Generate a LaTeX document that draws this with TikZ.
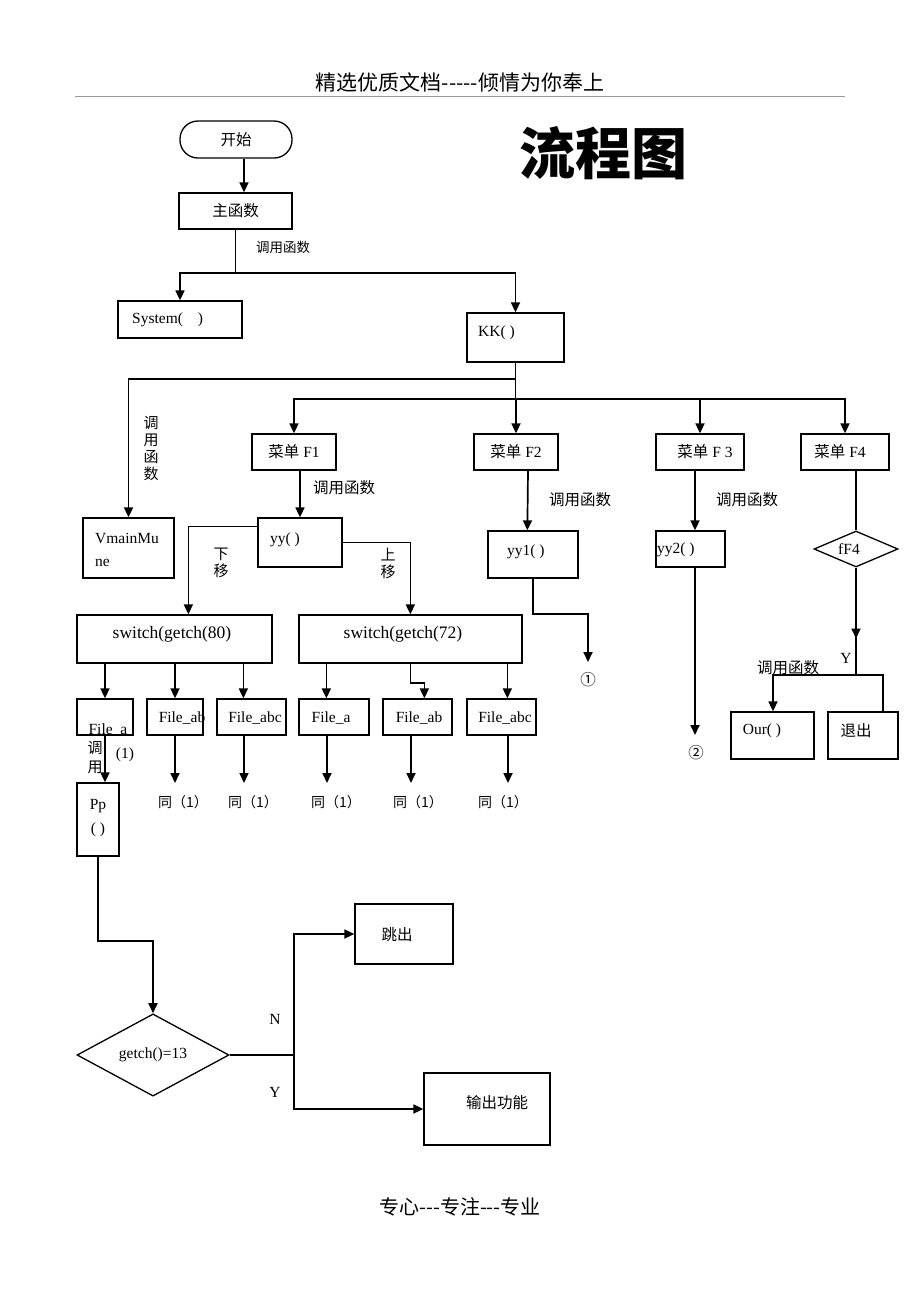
\documentclass[tikz,border=0pt]{standalone}
\usepackage{fontspec}
\setmainfont{Liberation Serif}
\newfontfamily\cjkf{Noto Sans CJK SC}
\newcommand{\zht}[1]{{\cjkf\fontsize{15.5}{18}\selectfont #1}}
\newcommand{\zhs}[1]{{\cjkf\fontsize{14}{16}\selectfont #1}}
\usetikzlibrary{arrows.meta,shapes.geometric,calc}
\begin{document}
\begin{tikzpicture}[x=1pt,y=-1pt,
  every node/.style={inner sep=0pt, font=\fontsize{15.5}{18}\selectfont},
  box/.style={draw, line width=1.3pt},
  dia/.style={draw, diamond, line width=1.3pt},
  arr/.style={line width=1.7pt, -{Triangle[length=10pt,width=9pt]}},
  ln/.style={line width=1.7pt},
  big/.style={font=\fontsize{17.5}{20}\selectfont},
  vzh/.style={align=center, font=\cjkf\fontsize{15}{17}\selectfont},
]
\fill[white] (0,0) rectangle (920,1302);
\path[use as bounding box] (0,0) rectangle (920,1302);

% header / footer / title
\node (hdr) at (460,82) {\cjkf\fontsize{21}{24}\selectfont 精选优质文档-----倾情为你奉上};
\draw[gray!80, line width=1pt] (75,96) -- (845,96);
\node (ftr) at (460,1207) {\cjkf\fontsize{20}{24}\selectfont 专心---专注---专业};
\node (title) at (603,153) {\cjkf\bfseries\fontsize{56}{60}\selectfont 流程图};

% boxes
\node[box, rounded corners=18pt, minimum width=112pt, minimum height=37pt] (start) at (236,139.5) {\zht{开始}};
\node[box, minimum width=113pt, minimum height=36pt] (main) at (235.5,211) {\zht{主函数}};
\node[box, minimum width=124pt, minimum height=37pt] (sys) at (180,319.5) {};
\node[anchor=west] (tsys) at (132,320) {System(\hspace{15pt})};
\node[box, minimum width=97pt, minimum height=49pt] (kk) at (515.5,337.5) {};
\node[anchor=west] (tkk) at (478,333) {KK( )};
\node[box, minimum width=91pt, minimum height=60pt] (vm) at (128.5,548) {};
\node[anchor=west] (tvm1) at (95,538) {VmainMu};
\node[anchor=west] (tvm2) at (95,563) {ne};

\node[box, minimum width=84pt, minimum height=36pt] (f1) at (294,452) {\zht{菜单} F1};
\node[box, minimum width=84pt, minimum height=36pt] (f2) at (516,452) {\zht{菜单} F2};
\node[box, minimum width=88pt, minimum height=36pt] (f3) at (700,452) {};
\node (tf3) at (705,452) {\zht{菜单} F 3};
\node[box, minimum width=88pt, minimum height=36pt] (f4) at (845,452) {};
\node (tf4) at (840,452) {\zht{菜单} F4};

\node[box, minimum width=84pt, minimum height=49pt] (yy) at (300,542.5) {};
\node[anchor=west] (tyy) at (270,540) {yy( )};
\node[box, minimum width=90pt, minimum height=47pt] (yy1) at (533,554.5) {};
\node[anchor=west] (tyy1) at (507,552) {yy1( )};
\node[box, minimum width=69pt, minimum height=36pt] (yy2) at (690.5,549) {};
\node[anchor=west] (tyy2) at (657,550) {yy2( )};
\node[dia, minimum width=84pt, minimum height=36pt] (d2) at (856,549) {};
\node (td2) at (849,549) {fF4};

\node[box, minimum width=195pt, minimum height=48pt] (sw80) at (174.5,639) {};
\node[big] (tsw80) at (172,634) {switch(getch(80)};
\node[box, minimum width=223pt, minimum height=48pt] (sw72) at (410.5,639) {};
\node[big] (tsw72) at (403,634) {switch(getch(72)};

\node[box, minimum width=56pt, minimum height=36pt] (a1) at (105,717) {};
\node (ta1) at (108,730) {File\_a};
\node[box, minimum width=56pt, minimum height=36pt] (b1) at (175,717) {};
\node (tb1) at (182,718) {File\_ab};
\node[box, minimum width=69pt, minimum height=36pt] (c1) at (251.5,717) {};
\node (tc1) at (255,718) {File\_abc};
\node[box, minimum width=70pt, minimum height=36pt] (a2) at (334,717) {};
\node (ta2) at (331,718) {File\_a};
\node[box, minimum width=69pt, minimum height=36pt] (b2) at (417.5,717) {};
\node (tb2) at (419,718) {File\_ab};
\node[box, minimum width=69pt, minimum height=36pt] (c2) at (501.5,717) {};
\node (tc2) at (505,718) {File\_abc};

\node[box, minimum width=42pt, minimum height=73pt] (pp) at (98,819.5) {};
\node (tpp1) at (98,806) {Pp};
\node (tpp2) at (98,830) {( )};

\node[dia, minimum width=152pt, minimum height=60pt] (d1) at (153,1055) {getch()=13};
\node[box, minimum width=98pt, minimum height=60pt] (jump) at (404,934) {};
\node (tjump) at (397,935) {\zht{跳出}};
\node[box, minimum width=126pt, minimum height=72pt] (outf) at (487,1109) {};
\node (toutf) at (497,1103) {\zht{输出功能}};

\node[box, minimum width=83pt, minimum height=47pt] (our) at (772.5,735.5) {};
\node (tour) at (762,731) {Our( )};
\node[box, minimum width=70pt, minimum height=47pt] (quit) at (863,735.5) {};
\node (tquit) at (856,731) {\zht{退出}};

% labels
\node (l1) at (283,247) {\cjkf\fontsize{13.5}{15}\selectfont 调用函数};
\node[vzh] (l2) at (151,448) {调\\用\\函\\数};
\node (l3) at (344,488) {\zht{调用函数}};
\node (l4) at (580,500) {\zht{调用函数}};
\node (l5) at (747,500) {\zht{调用函数}};
\node (l6) at (788,668) {\zht{调用函数}};
\node[vzh] (l7) at (221,563) {下\\移};
\node[vzh] (l8) at (388,563) {上\\移};
\node[vzh, font=\cjkf\fontsize{15}{19}\selectfont] (l9) at (95,757) {调\\用};
\node (l10) at (125,755) {(1)};
\node (lN) at (275,1019) {N};
\node (lY) at (275,1092) {Y};
\node (lY2) at (846,658) {Y};
\node (o1) at (588,680) {\zht{①}};
\node (o2) at (696,753) {\zht{②}};
\node (s1) at (183,802) {\zhs{同（1）}};
\node (s2) at (253,802) {\zhs{同（1）}};
\node (s3) at (336,802) {\zhs{同（1）}};
\node (s4) at (418,802) {\zhs{同（1）}};
\node (s5) at (503,802) {\zhs{同（1）}};

% coordinates
\coordinate (e1) at (588,662);
\coordinate (e2) at (695,735);
\coordinate (c1t) at ($(c1.north west)+(27,0)$);
\coordinate (a2t) at ($(a2.north west)+(28,0)$);
\coordinate (b2t) at ($(b2.north west)+(42,0)$);
\coordinate (c2t) at ($(c2.north west)+(41,0)$);
\coordinate (yb) at (856,675);

% connectors
\draw[arr] ($(start.south)+(8,0)$) -- ($(main.north)+(8.5,0)$);
\draw[ln] (main.south) -- ++(0,43) coordinate (j1);
\draw[arr] (j1) -| (sys.north);
\draw[arr] (j1) -| (kk.north);
\draw[ln] (kk.south) -- ++(0,36) coordinate (j3);
\draw[arr] ($(kk.south)+(0,16)$) -| (vm.north);
\draw[arr] (j3) -| (f1.north);
\draw[arr] (j3) -| (f2.north);
\draw[arr] (j3) -| (f3.north);
\draw[arr] (j3) -| (f4.north);

\draw[arr] (f1.south -| yy.north) -- (yy.north);
\draw[arr] ($(yy.north west)+(0,9)$) -| ($(sw80.north west)+(112,0)$);
\draw[arr] ($(yy.north east)+(0,25)$) -| ($(sw72.north west)+(112,0)$);
\draw[arr] ($(f2.south)+(12,0)$) -- ($(yy1.north west)+(40,0)$);
\draw[arr] ($(f3.south)+(-5,0)$) -- ($(yy2.north)+(4.5,0)$);
\draw[ln] ($(f4.south)+(11,0)$) -- (d2.north);

\draw[arr] (yy1.south) -- ++(0,35) -| (e1);
\draw[arr] ($(yy2.south)+(4.5,0)$) -- (e2);
\draw[ln] (d2.south) -- (yb);
\draw[arr] (d2.south) -- ($(d2.south)!0.66!(yb)$);
\draw[arr] (yb) -| ($(our.north)+(0.5,0)$);
\draw[ln] (yb) -| ($(quit.north)+(20,0)$);

\draw[arr] (sw80.south -| a1.north) -- (a1.north);
\draw[arr] (sw80.south -| b1.north) -- (b1.north);
\draw[arr] (sw80.south -| c1t) -- (c1t);
\draw[arr] (sw72.south -| a2t) -- (a2t);
\draw[arr] (sw72.south) -- ++(0,19) -| (b2t);
\draw[arr] (sw72.south -| c2t) -- (c2t);

\coordinate (u1) at (175,783);
\coordinate (u2) at (244,783);
\coordinate (u3) at (327,783);
\coordinate (u4) at (411,783);
\coordinate (u5) at (508,783);
\draw[arr] (b1.south) -- (u1);
\draw[arr] (c1.south -| u2) -- (u2);
\draw[arr] (a2.south -| u3) -- (u3);
\draw[arr] (b2.south -| u4) -- (u4);
\draw[arr] (c2.south -| u5) -- (u5);

\draw[arr] (a1.south) -- (pp.north -| a1.south);
\draw[arr] (pp.south) -- ++(0,84) -| (d1.north);
\draw[ln] (d1.east) -- ++(64,0) coordinate (jd);
\draw[arr] (jd) |- (jump.west);
\draw[arr] (jd) |- (outf.west);
\end{tikzpicture}
\end{document}
